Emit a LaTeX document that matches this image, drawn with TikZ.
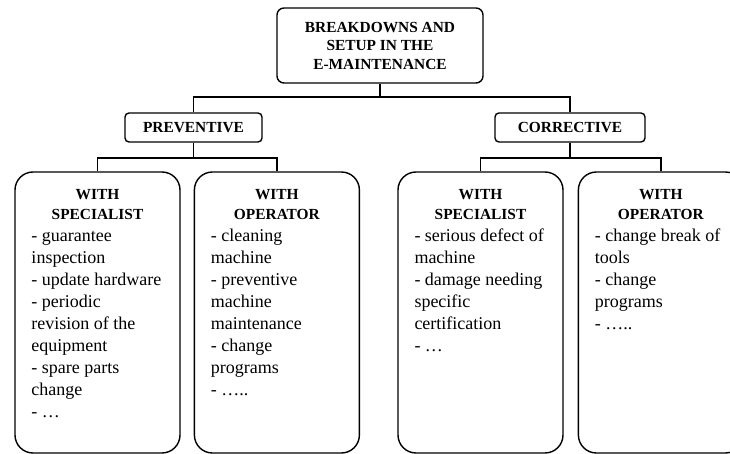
\documentclass[tikz,border=0pt]{standalone}
\usepackage{fontspec}
\setmainfont{Liberation Serif}
\usetikzlibrary{positioning}

\newcommand{\headfont}{\fontsize{7.7pt}{10pt}\selectfont\bfseries}
\newcommand{\itemfont}{\fontsize{9pt}{11pt}\selectfont\mdseries}
\newcommand{\cellbody}[2]{\parbox[t][127pt][t]{66pt}{\centering\headfont\strut#1\par\raggedright\itemfont#2}}

\begin{document}
\begin{tikzpicture}[
  x=0.5pt, y=-0.5pt,
  link/.style={line width=0.7pt},
  titlebox/.style={draw, line width=0.7pt, rounded corners=3.5pt,
                   minimum width=103pt, minimum height=37.5pt, align=center,
                   font=\fontsize{7.7pt}{9.25pt}\selectfont\bfseries},
  kindbox/.style={draw, line width=0.7pt, rounded corners=2pt,
                  minimum height=14.5pt,
                  font=\fontsize{7.7pt}{9.25pt}\selectfont\bfseries},
  cell/.style={draw, line width=0.7pt, rounded corners=9pt,
               minimum width=82.5pt, minimum height=140.5pt,
               inner xsep=8.25pt, inner ysep=6.75pt},
]
\useasboundingbox (0,0) rectangle (730,454);
\clip (0,0) rectangle (730,454);

\node[titlebox] (title) at (380,45.5) {BREAKDOWNS AND\\SETUP IN THE\\E-MAINTENANCE};
\node[kindbox, minimum width=68.5pt] (prev) at (193.5,127.5) {PREVENTIVE};
\node[kindbox, minimum width=75pt] (corr) at (570,127.5) {CORRECTIVE};

\node[cell] (spec1) at (97.5,312.5) {\cellbody{WITH\\SPECIALIST}
  {- guarantee\\inspection\\- update hardware\\- periodic\\revision of the\\equipment\\- spare parts\\change\\- …}};
\node[cell, right=6.5pt of spec1] (oper1) {\cellbody{WITH\\OPERATOR}
  {- cleaning\\machine\\- preventive\\machine\\maintenance\\- change\\programs\\- …..}};
\node[cell] (spec2) at (480.5,312.5) {\cellbody{WITH\\SPECIALIST}
  {- serious defect of\\machine\\- damage needing\\specific\\certification\\- …}};
\node[cell, right=7pt of spec2] (oper2) {\cellbody{WITH\\OPERATOR}
  {- change break of\\tools\\- change\\programs\\- …..}};

\coordinate (topbus) at (380,97);
\coordinate (prevbus) at (193.5,158);
\coordinate (corrbus) at (570,158);

\draw[link] (title.south) -- (topbus);
\draw[link] (prev.north) |- (topbus) -| (corr.north);
\draw[link] (prev.south) -- (prevbus);
\draw[link] (spec1.north) |- (prevbus) -| (oper1.north);
\draw[link] (corr.south) -- (corrbus);
\draw[link] (spec2.north) |- (corrbus) -| (oper2.north);
\end{tikzpicture}
\end{document}
